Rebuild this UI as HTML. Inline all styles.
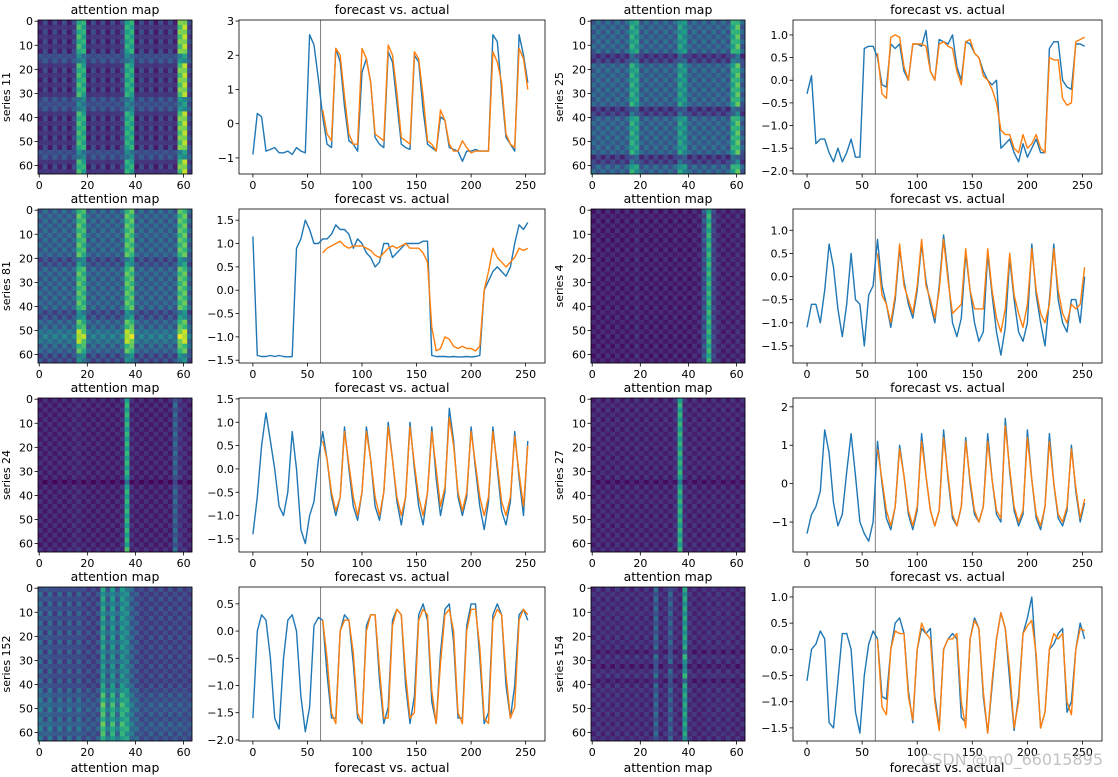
<!DOCTYPE html>
<html><head><meta charset="utf-8">
<style>
html,body{margin:0;padding:0;background:#fff;}
svg{display:block;font-family:"DejaVu Sans","Liberation Sans",sans-serif;}
</style></head>
<body>
<svg id="fig" width="1118" height="777" viewBox="0 0 1118 777" xmlns="http://www.w3.org/2000/svg"></svg>
<script>
// ---------- line chart data (actual sampled every 4 steps from 0; forecast every 4 steps from 64) ----------
const xStep = 4;
const fcStart = 64;
const splitX = 62;
const xTicks = [0,50,100,150,200,250];

const act11=[-0.9,0.3,0.2,-0.8,-0.75,-0.7,-0.85,-0.85,-0.8,-0.9,-0.7,-0.8,-0.85,2.6,2.3,1.3,0.2,-0.6,-0.7,2.2,1.8,0.5,-0.5,-0.6,-0.8,1.5,1.9,1.2,-0.4,-0.6,-0.7,2.1,1.8,0.6,-0.6,-0.7,-0.75,2.0,1.8,0.4,-0.6,-0.7,-0.8,0.2,0.1,-0.7,-0.75,-0.8,-1.1,-0.8,-0.8,-0.75,-0.8,-0.8,-0.8,2.6,2.4,1.0,-0.4,-0.6,-0.8,2.6,2.0,1.2];
const fc11=[0.4,-0.3,-0.5,2.2,2.0,0.8,-0.3,-0.6,-0.6,2.2,1.9,1.2,-0.3,-0.4,-0.5,2.3,2.0,0.9,-0.4,-0.5,-0.6,2.1,1.9,0.8,-0.5,-0.6,-0.8,0.4,0.1,-0.6,-0.8,-0.8,-0.5,-0.7,-0.85,-0.8,-0.8,-0.8,-0.8,2.1,1.8,1.2,-0.3,-0.6,-0.7,2.2,1.9,1.0];

const act25=[-0.3,0.1,-1.4,-1.3,-1.3,-1.6,-1.8,-1.5,-1.8,-1.6,-1.3,-1.7,-1.7,0.7,0.75,0.75,0.5,-0.1,-0.15,0.8,0.7,0.8,0.2,0.0,0.8,0.8,0.75,1.1,0.2,0.0,0.9,0.85,0.8,1.0,0.3,0.0,0.85,0.8,0.6,0.5,0.2,0.0,-0.1,0.0,-1.5,-1.4,-1.3,-1.6,-1.8,-1.4,-1.7,-1.5,-1.3,-1.6,-1.6,0.7,0.85,0.85,0.0,-0.15,-0.2,0.8,0.8,0.75];
const fc25=[0.6,-0.3,-0.4,0.95,1.0,0.95,0.3,0.0,0.8,0.8,0.8,0.75,0.2,0.0,0.8,0.85,0.75,0.7,0.2,-0.1,0.85,0.9,0.6,0.5,0.1,0.0,-0.2,-0.5,-1.1,-1.2,-1.2,-1.5,-1.6,-1.2,-1.5,-1.4,-1.2,-1.5,-1.6,0.5,0.45,0.45,-0.4,-0.55,-0.5,0.85,0.9,0.95];

const act81=[1.15,-1.4,-1.42,-1.42,-1.4,-1.42,-1.4,-1.42,-1.43,-1.42,0.9,1.1,1.5,1.3,1.0,1.0,1.1,1.1,1.2,1.4,1.3,1.3,1.2,0.9,1.1,1.0,0.8,0.7,0.5,0.6,1.0,1.0,0.7,0.8,0.9,1.0,1.0,1.0,1.0,1.05,1.05,-1.4,-1.42,-1.42,-1.42,-1.43,-1.42,-1.43,-1.43,-1.42,-1.43,-1.42,-1.4,0.0,0.2,0.4,0.5,0.4,0.3,0.5,1.0,1.4,1.3,1.45];
const fc81=[0.8,0.9,0.95,1.0,1.05,0.95,0.9,0.95,0.95,0.95,0.9,0.85,0.75,0.7,0.8,0.9,0.95,0.9,0.95,1.0,0.9,0.9,0.9,0.8,0.6,-0.8,-1.3,-1.25,-1.0,-1.05,-1.2,-1.25,-1.2,-1.25,-1.25,-1.3,-1.2,0.0,0.4,0.9,0.7,0.6,0.5,0.6,0.7,0.9,0.85,0.9];

const act4=[-1.1,-0.6,-0.6,-1.0,-0.3,0.7,0.2,-0.7,-1.3,-0.6,0.5,-0.5,-0.6,-1.5,-0.4,-0.2,0.8,-0.2,-0.6,-1.1,-0.5,0.6,-0.1,-0.6,-0.9,-0.3,0.7,-0.1,-0.6,-1.0,-0.2,0.9,0.0,-1.0,-1.3,-0.9,0.5,-0.3,-1.0,-1.4,-1.2,0.5,-0.4,-1.2,-1.7,-1.1,0.4,-0.5,-1.2,-1.4,-1.0,0.7,-0.4,-1.0,-1.5,-0.5,0.7,-0.5,-1.0,-1.2,-0.5,-0.5,-1.0,0.0];
const fc4=[0.5,-0.4,-0.6,-1.0,-0.4,0.7,-0.2,-0.5,-0.8,-0.2,0.8,-0.2,-0.5,-0.9,-0.3,0.8,-0.1,-0.8,-0.7,-0.6,0.6,-0.3,-0.7,-0.7,-0.7,0.6,-0.3,-0.9,-1.2,-0.7,0.5,-0.4,-0.8,-1.1,-0.6,0.6,-0.3,-0.8,-1.0,-0.6,0.6,-0.3,-0.8,-1.0,-0.6,-0.7,-0.6,0.2];

const act24=[-1.4,-0.6,0.5,1.2,0.6,0.0,-0.8,-1.0,-0.5,0.8,0.0,-1.3,-1.6,-1.0,-0.7,0.2,0.8,0.2,-0.6,-1.0,-0.6,0.9,0.0,-0.8,-1.1,-0.5,0.9,0.2,-0.8,-1.1,-0.5,1.0,0.2,-0.7,-1.2,-0.6,1.0,0.0,-0.8,-1.2,-0.5,0.9,-0.2,-1.0,-0.5,1.3,0.6,-0.6,-1.0,-0.6,0.9,0.0,-0.8,-1.3,-0.7,0.9,0.0,-0.9,-1.2,-0.7,0.8,-0.2,-1.0,0.6];
const fc24=[0.6,0.2,-0.5,-0.9,-0.6,0.8,0.1,-0.6,-1.0,-0.5,0.8,0.2,-0.6,-1.0,-0.5,0.9,0.2,-0.6,-1.0,-0.6,0.9,0.1,-0.6,-1.0,-0.5,0.8,0.0,-0.8,-0.4,1.1,0.5,-0.5,-0.9,-0.5,0.8,0.1,-0.6,-1.0,-0.6,0.8,0.1,-0.7,-1.0,-0.6,0.7,-0.1,-0.8,0.5];

const act27=[-1.3,-0.8,-0.6,-0.2,1.4,0.8,-0.5,-1.1,-0.8,0.3,1.3,0.2,-1.0,-1.3,-1.5,-1.0,1.1,0.0,-0.9,-1.2,-0.6,1.0,0.2,-0.8,-1.2,-0.7,1.3,0.2,-0.7,-1.1,-0.7,1.4,0.1,-0.9,-1.1,-0.6,1.2,0.0,-0.8,-1.0,-0.6,1.3,0.1,-0.8,-1.0,1.7,0.3,-0.7,-1.1,-0.8,1.4,0.1,-0.9,-1.2,-0.6,1.3,0.0,-0.9,-1.1,-0.7,1.0,-0.2,-1.0,-0.5];
const fc27=[0.9,0.1,-0.7,-1.1,-0.6,0.9,0.2,-0.7,-1.1,-0.6,1.1,0.2,-0.7,-1.1,-0.7,1.2,0.2,-0.8,-1.1,-0.6,1.1,0.1,-0.7,-1.0,-0.6,1.1,0.1,-0.7,-0.9,1.5,0.4,-0.6,-1.0,-0.7,1.2,0.1,-0.8,-1.1,-0.6,1.1,0.0,-0.8,-1.0,-0.6,0.9,-0.1,-0.9,-0.4];

const act152=[-1.6,0.0,0.3,0.2,-0.5,-1.6,-1.8,-0.5,0.2,0.3,0.0,-1.2,-1.85,-1.4,0.1,0.25,0.2,-0.8,-1.6,-1.6,0.0,0.3,0.2,-0.6,-1.6,-1.7,0.1,0.3,0.3,-0.9,-1.7,-1.4,0.2,0.4,0.3,-1.0,-1.7,-1.2,0.3,0.5,0.2,-1.3,-1.7,-0.4,0.4,0.5,-0.2,-1.6,-1.6,0.1,0.5,0.5,-0.5,-1.7,-1.5,0.3,0.5,0.3,-1.0,-1.6,-1.0,0.3,0.4,0.2];
const fc152=[0.2,-0.5,-1.5,-1.7,0.0,0.2,0.2,-0.4,-1.5,-1.7,0.0,0.3,0.3,-0.7,-1.6,-1.6,0.1,0.4,0.3,-0.8,-1.6,-1.5,0.2,0.4,0.3,-1.1,-1.7,-0.6,0.3,0.4,0.0,-1.5,-1.7,0.0,0.4,0.4,-0.3,-1.6,-1.7,0.2,0.4,0.3,-0.8,-1.6,-1.4,0.2,0.4,0.3];

const act154=[-0.6,0.0,0.1,0.35,0.2,-1.4,-1.5,-0.6,0.3,0.3,0.0,-1.2,-1.6,-0.5,0.1,0.35,0.2,-0.9,-0.95,0.0,0.5,0.6,0.3,-0.8,-1.4,0.0,0.4,0.3,0.4,-0.9,-1.5,0.0,0.2,0.3,0.2,-1.3,-1.4,0.2,0.6,0.4,-0.9,-1.6,-0.7,0.2,0.7,0.4,-0.6,-1.55,-0.9,0.3,0.6,1.0,-0.2,-1.5,-1.2,0.0,0.1,0.3,0.4,-1.2,-1.0,0.0,0.5,0.2];
const fc154=[0.2,-1.1,-1.25,0.0,0.35,0.3,0.3,-0.9,-1.35,0.0,0.5,0.3,0.2,-1.0,-1.55,0.0,0.2,0.2,0.3,-1.0,-1.5,0.2,0.55,0.4,-0.8,-1.6,-0.6,0.2,0.7,0.4,-0.4,-1.5,-1.0,0.3,0.45,0.55,-0.1,-1.5,-1.2,0.0,0.3,0.2,0.3,-1.0,-1.25,0.0,0.4,0.35];

// ---------- heatmap data (32 column-pair and 32 row-pair profiles) ----------
const hmCols11=[.12,.2,.1,.2,.12,.2,.1,.2,.65,.6,.1,.2,.12,.2,.1,.2,.12,.2,.6,.6,.1,.2,.12,.2,.1,.2,.12,.2,.12,.75,.85,.2];
const hmRows11=[1,1,1,1,1,1,1,.4,.4,1,1,1,1,1,1,1,.4,.4,.4,1,1,1,1,1,1,1,1,.4,.4,1,1,1];
const hmCols25=[.3,.32,.3,.32,.3,.32,.3,.32,.6,.55,.3,.32,.3,.32,.3,.32,.3,.32,.55,.5,.3,.32,.3,.32,.3,.32,.3,.32,.3,.6,.7,.3];
const hmRows25=[1,1,1,1,1,1,1,.5,.6,1,1,1,1,1,1,1,1,1,.5,.6,1,1,1,1,1,1,1,1,.5,.6,1,1];
const hmCols81=[.3,.32,.3,.32,.3,.32,.3,.32,.7,.65,.3,.32,.3,.32,.3,.32,.3,.32,.7,.7,.3,.32,.3,.32,.3,.32,.3,.32,.3,.7,.72,.3];
const hmRows81=[1,1,1,1,1,1,1,1,1,1,.6,.7,1,1,1,1,1,1,1,1,1,.6,.7,1,1,1.2,1.3,1.2,1,1,.6,.6];
const hmCols4=[.08,.1,.08,.1,.08,.1,.08,.1,.08,.12,.08,.1,.08,.1,.08,.1,.08,.1,.08,.1,.08,.1,.1,.25,.62,.2,.12,.1,.1,.1,.12,.1];
const hmRows4=[1,1,1,1,1,1,1,1,1,1,1,1,1,1,1,1,1,1,1,1,1,1,1,1,1,1,1,1,1,1,1,1];
const hmCols24=[.1,.1,.1,.1,.1,.1,.1,.12,.12,.1,.1,.1,.1,.1,.1,.1,.1,.12,.6,.12,.1,.1,.1,.1,.1,.1,.1,.1,.3,.15,.12,.1];
const hmRows24=[1,1,1,1,1,1,1,1,1,1,1,1,1,1,1,1,1,.5,1,1,1,1,1,1,1,1,1,1,1,1,1,1.1];
const hmCols27=[.1,.12,.1,.12,.1,.12,.1,.12,.1,.12,.1,.12,.1,.12,.1,.12,.1,.14,.6,.14,.1,.12,.1,.12,.1,.12,.1,.12,.1,.12,.1,.12];
const hmRows27=[1,1,1,1,1,1,1,1,1,1,1,1,1,1,1,1,1,.6,1,1,1,1,1,1,1,1,1,1,1,1,1,1];
const hmCols152=[.3,.22,.3,.2,.28,.2,.28,.2,.28,.2,.22,.2,.22,.55,.3,.5,.3,.5,.45,.3,.25,.2,.2,.22,.2,.22,.2,.22,.2,.22,.2,.2];
const hmRows152=[1,1,1,1,1,1,1,1,1,1,1,1,1,.9,.9,.9,.9,.9,.9,.9,1,1.1,1.2,1.2,1.3,1.3,1.2,1.2,1.3,1.3,1.2,1.2];
const hmCols154=[.12,.14,.12,.14,.12,.14,.12,.14,.12,.14,.12,.14,.12,.3,.12,.14,.28,.14,.12,.55,.14,.12,.12,.12,.14,.12,.14,.12,.14,.12,.12,.12];
const hmRows154=[1,1,1,1,1,1,1,1,1,1,1,1,1,.7,1.1,1,.7,1,1.1,.7,1,1,1,1,1,1,1,1,1,1,1,1];

// ---------- helpers ----------
const NS='http://www.w3.org/2000/svg';
const svg=document.getElementById('fig');
function mk(tag,attrs,parent){const e=document.createElementNS(NS,tag);for(const k in attrs)e.setAttribute(k,attrs[k]);(parent||svg).appendChild(e);return e;}
function txt(str,attrs,parent){const e=mk('text',attrs,parent);e.textContent=str;return e;}
function fmt(v,dec){let s=v.toFixed(dec);if(v<0)s='\u2212'+s.slice(1);return s;}

const VIR=[[68,1,84],[72,40,120],[62,74,137],[49,104,142],[38,130,142],[31,158,137],[53,183,121],[109,205,89],[180,222,44],[253,231,37]];
function viridis(t){t=Math.max(0,Math.min(1,t));const p=t*(VIR.length-1);const i=Math.min(VIR.length-2,Math.floor(p));const f=p-i;const a=VIR[i],b=VIR[i+1];
return 'rgb('+[0,1,2].map(k=>Math.round(a[k]+(b[k]-a[k])*f)).join(',')+')';}

const ROWS=[20,209,398,587];
const H=154;

function heatmap(x0,y0,cols,rows,off,label,name){
  const g=mk('g',{},svg);
  
  
  const W=154,n=32,cw=W/n,ch=H/n;
  for(let r=0;r<n;r++)for(let c=0;c<n;c++){
    const rv=rows[r];
    let v=cols[c]*Math.min(rv,1)+(rv<1?(1-rv)*off:0);
    if(rv>1)v=v*rv;
    v+=((r+c)%2?0.04:-0.04)*(cols[c]>0.2?1.5:1);
    const rc=mk('rect',{x:(x0+c*cw).toFixed(2),y:(y0+r*ch).toFixed(2),width:(cw+0.3).toFixed(2),height:(ch+0.3).toFixed(2),fill:viridis(v)},g);
    
    
  }
  mk('rect',{x:x0,y:y0,width:W,height:H,fill:'none',stroke:'#000','stroke-width':0.8},g);
  const sx=v=>x0+(v+0.5)/64*W, sy=v=>y0+(v+0.5)/64*H;
  [0,20,40,60].forEach(t=>{mk('line',{x1:sx(t),x2:sx(t),y1:y0+H,y2:y0+H+3.5,stroke:'#000','stroke-width':0.8},g);
    const l=txt(String(t),{x:sx(t),y:y0+H+15,'font-size':11,'text-anchor':'middle',fill:'#000'},g);
    });
  [0,10,20,30,40,50,60].forEach(t=>{mk('line',{x1:x0-3.5,x2:x0,y1:sy(t),y2:sy(t),stroke:'#000','stroke-width':0.8},g);
    const l=txt(String(t),{x:x0-5,y:sy(t)+4,'font-size':11,'text-anchor':'end',fill:'#000'},g);
    });
  const tt=txt('attention map',{x:x0+W/2,y:y0-6,'font-size':12.5,'text-anchor':'middle',fill:'#000'},g);
  
  const yl=txt(label,{x:0,y:0,'font-size':11,'text-anchor':'middle',fill:'#000',transform:'translate('+(x0-28)+','+(y0+H/2)+') rotate(-90)'},g);
  
}

function linechart(x0,y0,W,act,fc,ymin,ymax,yticks,dec,name){
  const g=mk('g',{},svg);
  
  
  const xmin=-12.75,xmax=267.75;
  const sx=v=>x0+(v-xmin)/(xmax-xmin)*W, sy=v=>y0+(ymax-v)/(ymax-ymin)*H;
  mk('rect',{x:x0,y:y0,width:W,height:H,fill:'#fff'},g);
  const vl=mk('line',{x1:sx(splitX),x2:sx(splitX),y1:y0,y2:y0+H,stroke:'#808080','stroke-width':1},g);
  
  const pa=act.map((v,i)=>sx(i*xStep).toFixed(1)+','+sy(v).toFixed(1)).join(' ');
  const l1=mk('polyline',{points:pa,fill:'none',stroke:'#1f77b4','stroke-width':1.4,'stroke-linejoin':'round'},g);
  
  const pf=fc.map((v,i)=>sx(fcStart+i*xStep).toFixed(1)+','+sy(v).toFixed(1)).join(' ');
  const l2=mk('polyline',{points:pf,fill:'none',stroke:'#ff7f0e','stroke-width':1.4,'stroke-linejoin':'round'},g);
  
  mk('rect',{x:x0,y:y0,width:W,height:H,fill:'none',stroke:'#000','stroke-width':0.8},g);
  xTicks.forEach(t=>{mk('line',{x1:sx(t),x2:sx(t),y1:y0+H,y2:y0+H+3.5,stroke:'#000','stroke-width':0.8},g);
    const l=txt(String(t),{x:sx(t),y:y0+H+15,'font-size':11,'text-anchor':'middle',fill:'#000'},g);
    });
  yticks.forEach(t=>{mk('line',{x1:x0-3.5,x2:x0,y1:sy(t),y2:sy(t),stroke:'#000','stroke-width':0.8},g);
    const l=txt(fmt(t,dec),{x:x0-5,y:sy(t)+4,'font-size':11,'text-anchor':'end',fill:'#000'},g);
    });
  const tt=txt('forecast vs. actual',{x:x0+W/2,y:y0-6,'font-size':12.5,'text-anchor':'middle',fill:'#000'},g);
  
}

const C1=38,C2=239,C3=591,C4=793,LW=306;
heatmap(C1,ROWS[0],hmCols11,hmRows11,0.3,'series 11','heatmap-series-11');
linechart(C2,ROWS[0],LW,act11,fc11,-1.47,3.03,[-1,0,1,2,3],0,'chart-series-11');
heatmap(C3,ROWS[0],hmCols25,hmRows25,0.0,'series 25','heatmap-series-25');
linechart(C4,ROWS[0],LW+3,act25,fc25,-2.07,1.33,[-2,-1.5,-1,-0.5,0,0.5,1],1,'chart-series-25');
heatmap(C1,ROWS[1],hmCols81,hmRows81,0.1,'series 81','heatmap-series-81');
linechart(C2,ROWS[1],LW,act81,fc81,-1.56,1.74,[-1.5,-1,-0.5,0,0.5,1,1.5],1,'chart-series-81');
heatmap(C3,ROWS[1],hmCols4,hmRows4,0.1,'series 4','heatmap-series-4');
linechart(C4,ROWS[1],LW+3,act4,fc4,-1.87,1.46,[-1.5,-1,-0.5,0,0.5,1],1,'chart-series-4');
heatmap(C1,ROWS[2],hmCols24,hmRows24,0.0,'series 24','heatmap-series-24');
linechart(C2,ROWS[2],LW,act24,fc24,-1.78,1.52,[-1.5,-1,-0.5,0,0.5,1,1.5],1,'chart-series-24');
heatmap(C3,ROWS[2],hmCols27,hmRows27,0.0,'series 27','heatmap-series-27');
linechart(C4,ROWS[2],LW+3,act27,fc27,-1.78,2.23,[-1,0,1,2],0,'chart-series-27');
heatmap(C1,ROWS[3],hmCols152,hmRows152,0.2,'series 152','heatmap-series-152');
linechart(C2,ROWS[3],LW,act152,fc152,-2.02,0.81,[-2,-1.5,-1,-0.5,0,0.5],1,'chart-series-152');
heatmap(C3,ROWS[3],hmCols154,hmRows154,0.0,'series 154','heatmap-series-154');
linechart(C4,ROWS[3],LW+3,act154,fc154,-1.75,1.19,[-1.5,-1,-0.5,0,0.5,1],1,'chart-series-154');

// next-row titles peeking at bottom
[[C1+77,'attention map'],[C2+153,'forecast vs. actual'],[C3+77,'attention map'],[C4+154,'forecast vs. actual']].forEach(p=>{
  const t=txt(p[1],{x:p[0],y:772,'font-size':12.5,'text-anchor':'middle',fill:'#000'});
  
});
const wm=txt('CSDN @m0_66015895',{x:1103,y:765,'font-size':16,'text-anchor':'end',fill:'#aaa','fill-opacity':0.7});


</script>
</body></html>
